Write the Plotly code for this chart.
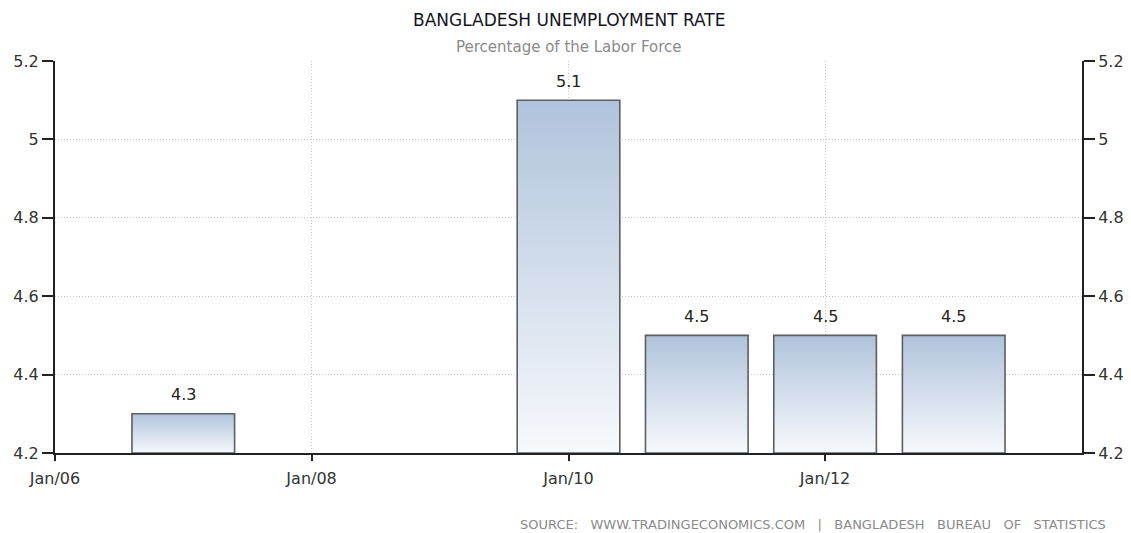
import plotly.graph_objects as go
import pandas as pd

# ---- data ----
dates = ["2007-01-01", "2010-01-01", "2011-01-01", "2012-01-01", "2013-01-01"]
values = [4.3, 5.1, 4.5, 4.5, 4.5]
y_ticks = [4.2, 4.4, 4.6, 4.8, 5.0, 5.2]
x_tickvals = ["2006-01-01", "2008-01-01", "2010-01-01", "2012-01-01"]
x_ticktext = ["Jan/06", "Jan/08", "Jan/10", "Jan/12"]
title = "BANGLADESH UNEMPLOYMENT RATE"
subtitle = "Percentage of the Labor Force"
source = "SOURCE:   WWW.TRADINGECONOMICS.COM   |   BANGLADESH   BUREAU   OF   STATISTICS"

FONT = "DejaVu Sans"
y_min, y_max = 4.2, 5.2
half_width = pd.Timedelta(days=146)  # bar half-width (0.8 year bars)

fig = go.Figure()

# bars as gradient-filled shapes built from the data
for d, v in zip(dates, values):
    c = pd.Timestamp(d)
    x0, x1 = c - half_width, c + half_width
    fig.add_trace(go.Scatter(
        x=[x0, x0, x1, x1, x0],
        y=[y_min, v, v, y_min, y_min],
        mode="lines",
        fill="toself",
        fillgradient=dict(type="vertical",
                          colorscale=[[0, "#f7f9fc"], [1, "#b0c3dc"]]),
        line=dict(color="#5e5e5e", width=1.6),
        hoverinfo="skip",
        showlegend=False,
    ))

# invisible trace for right axis
fig.add_trace(go.Scatter(x=dates, y=values, yaxis="y2", mode="markers",
                         marker=dict(opacity=0), showlegend=False,
                         hoverinfo="skip"))

grid_common = dict(showgrid=True, gridcolor="#c8c8c8", griddash="1px,2px",
                   gridwidth=1)
axis_font = dict(family=FONT, size=16, color="#333")

value_labels = [
    dict(x=d, y=v, text=f"{v:g}", xref="x", yref="y", showarrow=False,
         yshift=19, xanchor="center", yanchor="middle",
         font=dict(family=FONT, size=16, color="#222"))
    for d, v in zip(dates, values)
]

fig.update_layout(
    width=1131, height=533,
    margin=dict(l=55, r=49, t=61, b=80),
    paper_bgcolor="white", plot_bgcolor="white",
    font=dict(family=FONT, color="#333"),
    xaxis=dict(
        type="date", automargin=False,
        range=["2006-01-01", "2014-01-01"],
        tickvals=x_tickvals, ticktext=x_ticktext,
        showline=True, linecolor="#222", linewidth=2,
        ticks="outside", ticklen=6, tickcolor="#222", tickwidth=2,
        ticklabelstandoff=4,
        tickfont=axis_font, zeroline=False, **grid_common,
    ),
    yaxis=dict(
        range=[y_min, y_max], tickvals=y_ticks, automargin=False,
        showline=True, linecolor="#222", linewidth=2,
        ticks="outside", ticklen=11, tickcolor="#222", tickwidth=2,
        tickfont=axis_font, zeroline=False, **grid_common,
    ),
    yaxis2=dict(
        range=[y_min, y_max], tickvals=y_ticks, automargin=False,
        overlaying="y", side="right",
        showline=True, linecolor="#222", linewidth=2,
        ticks="outside", ticklen=11, tickcolor="#222", tickwidth=2,
        showgrid=False, zeroline=False, tickfont=axis_font,
    ),
    annotations=value_labels + [
        dict(text=title, xref="paper", yref="paper", x=0.5, y=1,
             yshift=41, xanchor="center", yanchor="middle", showarrow=False,
             font=dict(family=FONT, size=17, color="#141424")),
        dict(text=subtitle, xref="paper", yref="paper", x=0.5, y=1,
             yshift=14, xanchor="center", yanchor="middle", showarrow=False,
             font=dict(family=FONT, size=15, color="#8a8a8a")),
        dict(text=source, xref="paper", yref="paper", x=1, y=0,
             xshift=26, yshift=-71, xanchor="right", yanchor="middle",
             showarrow=False,
             font=dict(family=FONT, size=13, color="#8a8a8a")),
    ],
)

fig.write_html("out.html", config={"displayModeBar": False},
               post_script="document.body.style.margin='0';")
